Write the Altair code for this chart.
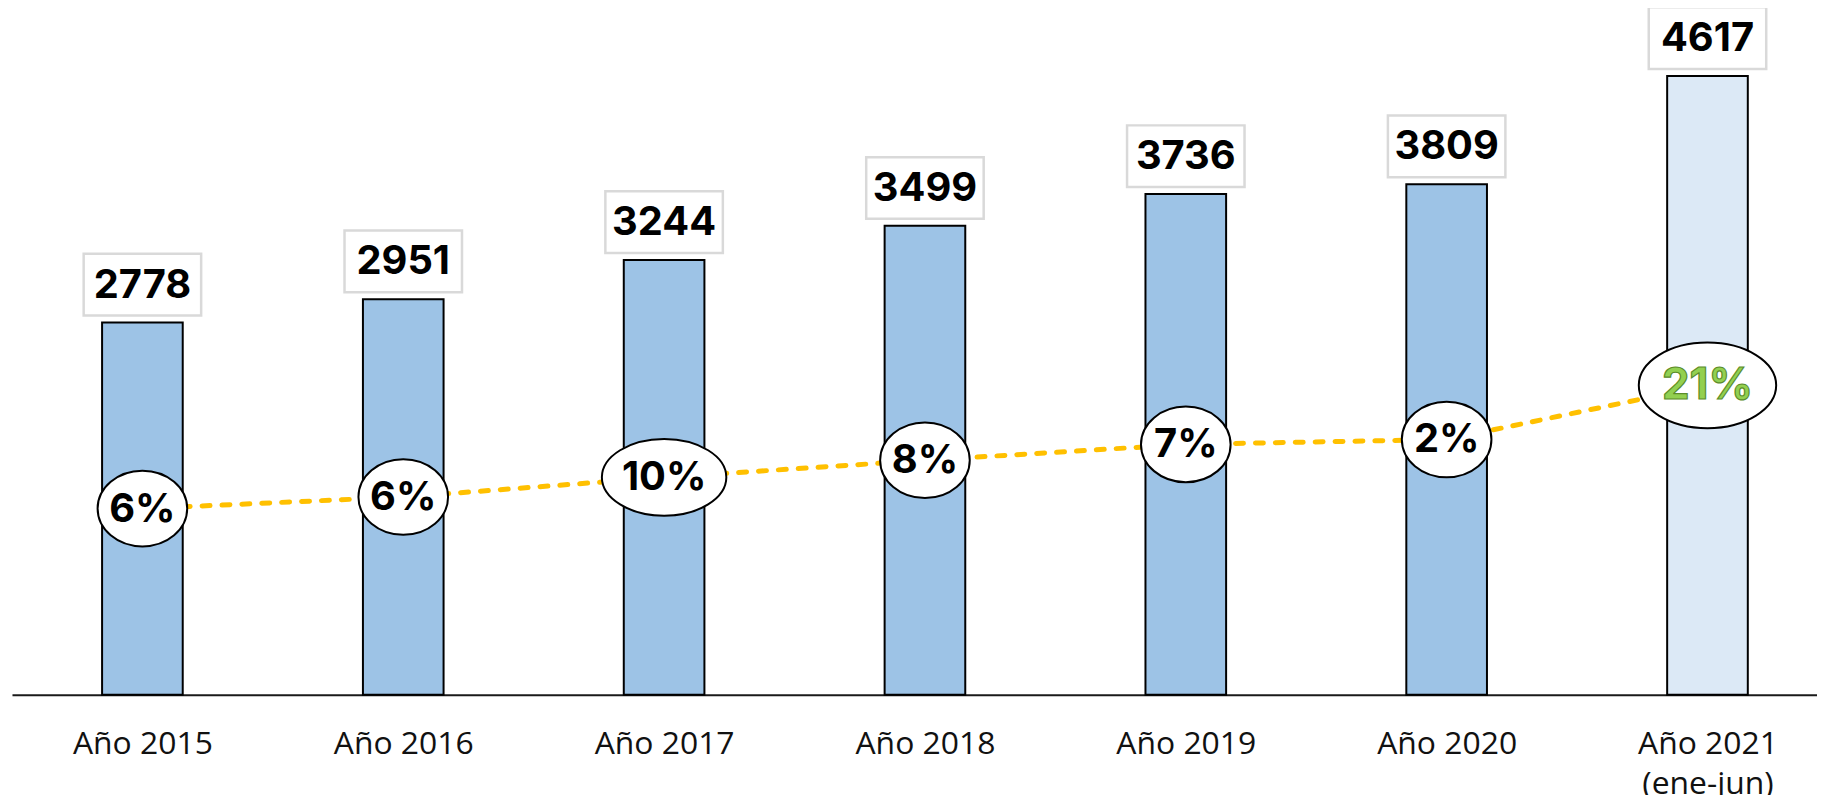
import json
import altair as alt
import pandas as pd

# ---- data ----
categories = ["Año 2015", "Año 2016", "Año 2017", "Año 2018", "Año 2019", "Año 2020", "Año 2021\n(ene-jun)"]
values = [2778, 2951, 3244, 3499, 3736, 3809, 4617]
pct_labels = ["6%", "6%", "10%", "8%", "7%", "2%", "21%"]
title_text = "PONU: EMPRESAS EN EL SECTOR PRIVADO POR AÑO (2015 – junio 2021)"

df = pd.DataFrame({
    "idx": list(range(len(categories))),
    "cat": categories,
    "value": values,
    "pct": pct_labels,
})

# ---- helpers (style only) ----
K = 0.5523


def ellipse_path(ry):
    return (f"M1,0 C1,{K*ry:.4f} {K:.4f},{ry:.4f} 0,{ry:.4f} "
            f"C{-K:.4f},{ry:.4f} -1,{K*ry:.4f} -1,0 "
            f"C-1,{-K*ry:.4f} {-K:.4f},{-ry:.4f} 0,{-ry:.4f} "
            f"C{K:.4f},{-ry:.4f} 1,{-K*ry:.4f} 1,0 Z")


rect_path = "M-1,-0.525 L1,-0.525 L1,0.525 L-1,0.525 Z"

PLOT_W = 1813
PLOT_H = 673
STEP = 262

label_expr = "split(" + json.dumps(categories) + "[datum.value], '\\n')"

x_scale = alt.Scale(domain=[-0.5, -0.5 + PLOT_W / STEP], nice=False, zero=False, padding=0)
x_enc = alt.X(
    "idx:Q", scale=x_scale,
    axis=alt.Axis(
        values=list(range(len(categories))), labelExpr=label_expr, title=None,
        ticks=False, grid=False, domain=True, domainColor="#1a1a1a", domainWidth=2,
        labelFont="Open Sans", labelFontSize=32, labelColor="#111111",
        labelPadding=34, labelLineHeight=40, labelFlush=False, labelOverlap=False,
        labelBound=False,
    ),
)
y_bar = alt.Y("value:Q", scale=alt.Scale(domain=[0, 5000], nice=False, zero=True), axis=None)
y_line = alt.Y("value:Q", scale=alt.Scale(domain=[0, 10000], nice=False, zero=True), axis=None)

base = alt.Chart(df)

bars = base.mark_bar(size=81, stroke="black", strokeWidth=2).encode(
    x=x_enc, y=y_bar,
    fill=alt.condition("datum.idx == 6", alt.value("#DCE9F6"), alt.value("#9DC3E6")),
)

line = base.mark_line(color="#FFC000", strokeWidth=5, strokeDash=[8, 12], strokeCap="round").encode(
    x=x_enc, y=y_line
)


def ell(filter_expr, ry, w):
    return base.transform_filter(filter_expr).mark_point(
        shape=ellipse_path(ry), size=w * w, filled=True, fill="white",
        stroke="black", strokeWidth=2, opacity=1, fillOpacity=1, strokeOpacity=1,
    ).encode(x=x_enc, y=y_line)


ell_small = ell("length(datum.pct) == 2", 0.844, 90)
ell_wide = ell("length(datum.pct) == 3 && datum.idx != 6", 0.616, 125)
ell_big = ell("datum.idx == 6", 0.623, 138)

pct_text = base.transform_filter("datum.idx != 6").mark_text(
    font="Inter", fontSize=40, fontWeight="bold", color="black", baseline="middle", dy=1
).encode(x=x_enc, y=y_line, text="pct:N")

pct_big = base.transform_filter("datum.idx == 6").mark_text(
    font="Inter", fontSize=44, fontWeight="bold", fill="#92D050", stroke="#5B8C2A",
    strokeWidth=1.2, baseline="middle", dy=1
).encode(x=x_enc, y=y_line, text="pct:N")

boxes = base.mark_point(
    shape=rect_path, size=118 * 118, filled=True, fill="white", stroke="#D9D9D9",
    strokeWidth=2.5, opacity=1, fillOpacity=1, strokeOpacity=1, yOffset=-38,
).encode(x=x_enc, y=y_bar)

val_text = base.mark_text(
    font="Inter", fontSize=40, fontWeight="bold", color="black", baseline="middle", dy=-37
).encode(x=x_enc, y=y_bar, text=alt.Text("value:Q", format="d"))

chart = alt.layer(
    bars, line, ell_small, ell_wide, ell_big, pct_text, pct_big, boxes, val_text
).resolve_scale(y="independent").properties(
    width=PLOT_W, height=PLOT_H,
    autosize=alt.AutoSizeParams(type="none"),
    padding={"left": 4, "top": 15, "right": 0, "bottom": 99},
    title=alt.TitleParams(
        text=title_text, font="Liberation Sans", fontSize=36, fontWeight="bold",
        color="black", anchor="middle", offset=13, dx=64, baseline="alphabetic",
    ),
    background="white",
).configure_view(stroke=None)

chart.save("out.html", embed_options={"renderer": "svg", "actions": False})
